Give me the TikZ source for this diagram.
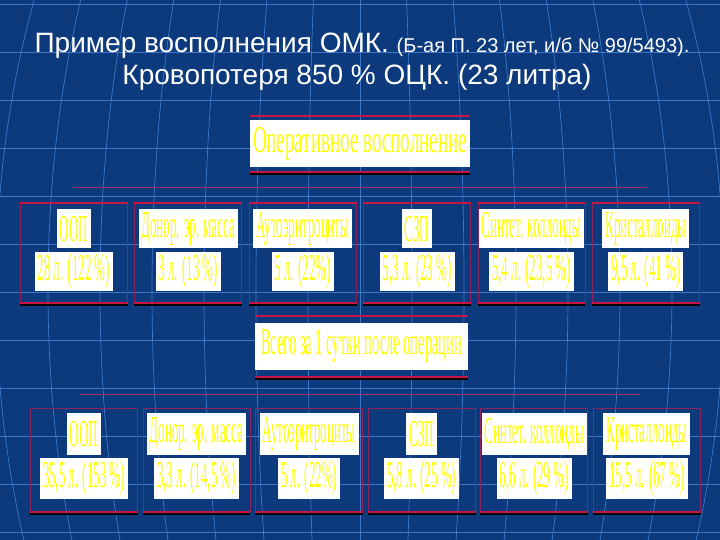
\documentclass[tikz,border=0pt]{standalone}
\usepackage{fontspec}
\setmainfont{Liberation Sans}
\newfontfamily\cellfont{Liberation Serif}
\usetikzlibrary{positioning}
\definecolor{slide}{RGB}{12,58,124}
\definecolor{gridblue}{RGB}{75,135,220}
\definecolor{boxred}{RGB}{200,20,70}
\definecolor{edgered}{RGB}{140,35,95}
\definecolor{busred}{RGB}{165,45,105}
\definecolor{txtyellow}{RGB}{255,255,0}
\newcommand{\narrowtext}[2]{\scalebox{#1}[1]{#2}}
\tikzset{%
   gridline/.style={
      draw=gridblue,
      line width=0.7pt,
      opacity=0.8
   },
   lbl/.style={
      fill=white,
      text=txtyellow,
      inner xsep=3pt,
      inner ysep=0pt,
      minimum height=39pt,
      font=\cellfont\fontsize{38}{40}\selectfont
   },
   head/.style={
      fill=white,
      text=txtyellow,
      inner sep=0pt,
      minimum height=47pt,
      font=\cellfont\fontsize{38}{40}\selectfont
   },
   cell/.style={
      draw=edgered,
      line width=0.8pt,
      minimum width=107pt,
      minimum height=99pt,
      inner sep=0pt
   },
   redline/.style={
      draw=boxred,
      line width=2.2pt
   },
   shade/.style={
      draw=black,
      line width=1.6pt
   },
   bus/.style={
      draw=busred,
      line width=1pt
   },
}
\begin{document}
\begin{tikzpicture}[x=1pt, y=-1pt]
   \useasboundingbox (0,0) rectangle (720,540);
   \fill[slide] (0,0) rectangle (720,540);
   % background grid
   \begin{scope}
      \clip (0,0) rectangle (720,540);
      \foreach \y in {4,52,...,532}
         \draw[gridline] (0,\y) -- (720,\y);
      \draw[gridline] (360,0) -- (360,540);
      \foreach \k in {1,...,9}
         \draw[gridline] (360,290) ellipse ({\k*52pt} and 650pt);
   \end{scope}
   % title
   \node[anchor=base, text=white, inner sep=0pt, font=\fontsize{28}{30}\selectfont] (title) at (362,53)
      {Пример восполнения ОМК. {\fontsize{20}{22}\selectfont (Б-ая П. 23 лет, и/б № 99/5493).}};
   \node[anchor=base, text=white, inner sep=0pt, font=\fontsize{28}{30}\selectfont] (loss) at (357,85)
      {Кровопотеря 850 \% ОЦК. (23 литра)};
   % first level
   \node[head, minimum width=220pt] (oper) at (360,143.5) {\narrowtext{0.5}{Оперативное восполнение}};
   \draw[redline] ([yshift=4pt]oper.north west) -- ([yshift=4pt]oper.north east);
   \draw[shade] ([yshift=-7pt]oper.south west) -- ([yshift=-7pt]oper.south east);
   \draw[redline] ([yshift=-5pt]oper.south west) -- ([yshift=-5pt]oper.south east);
   \coordinate (busa1) at (73,188);
   \coordinate (busa2) at (647,188);
   \draw[bus] (busa1) -- (busa2);
   \foreach \i/\lab/\num in {1/ООП/{28 л. (122 \%)}, 2/{Донор. эр. масса}/{3 л. (13 \%)},
         3/Аутоэритроциты/{5 л. (22\%)}, 4/СЗП/{5,3 л. (23 \%)},
         5/{Синтет. коллоиды}/{5,4 л. (23,5 \%)}, 6/Кристаллоиды/{9,5 л. (41 \%)}}{
      \node[cell, anchor=north west] (op\i) at ({20+(\i-1)*114.4},203) {};
      \draw[redline] (op\i.north west) -- (op\i.north east);
      \draw[shade] ([yshift=-2pt]op\i.south west) -- ([yshift=-2pt]op\i.south east);
      \draw[redline] (op\i.south west) -- (op\i.south east);
      \node[lbl, below=6pt of op\i.north] (opn\i) {\narrowtext{0.34}{\lab}};
      \node[lbl, below=3pt of opn\i] (opv\i) {\narrowtext{0.34}{\num}};
   }
   % second level
   \node[head, minimum width=213pt] (day) at (361.5,346.5) {\narrowtext{0.38}{Всего за 1 сутки после операции}};
   \draw[redline] ([yshift=7pt]day.north west) -- ([yshift=7pt]day.north east);
   \draw[shade] ([yshift=-9pt]day.south west) -- ([yshift=-9pt]day.south east);
   \draw[redline] ([yshift=-7pt]day.south west) -- ([yshift=-7pt]day.south east);
   \coordinate (busb1) at (80,394);
   \coordinate (busb2) at (640,394);
   \draw[bus] (busb1) -- (busb2);
   \foreach \i/\lab/\num in {1/ООП/{35,5 л. (153 \%)}, 2/{Донор. эр. масса}/{3,3 л. (14,5 \%)},
         3/Аутоэритроциты/{5 л. (22\%)}, 4/СЗП/{5,8 л. (25 \%)},
         5/{Синтет. коллоиды}/{6,6 л. (29 \%)}, 6/Кристаллоиды/{15,5 л. (67 \%)}}{
      \node[cell, anchor=north west, minimum height=103pt] (dy\i) at ({30+(\i-1)*112.6},408) {};
      \draw[shade] ([yshift=-2pt]dy\i.south west) -- ([yshift=-2pt]dy\i.south east);
      \draw[redline] (dy\i.south west) -- (dy\i.south east);
      \node[lbl, minimum height=42pt, below=5pt of dy\i.north] (dyn\i) {\narrowtext{0.34}{\lab}};
      \node[lbl, minimum height=41pt, below=2pt of dyn\i] (dyv\i) {\narrowtext{0.34}{\num}};
   }
\end{tikzpicture}
\end{document}
